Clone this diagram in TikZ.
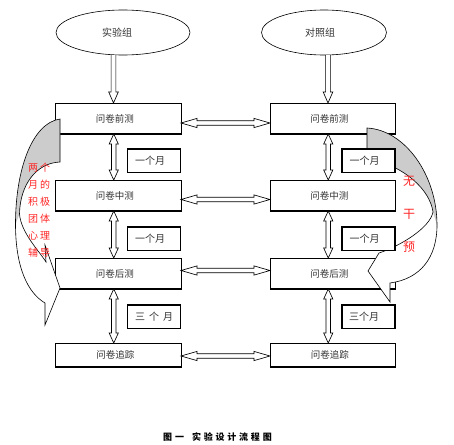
\documentclass[tikz,border=0pt]{standalone}
\usepackage{fontspec}
\setmainfont{Noto Sans CJK SC}
\usetikzlibrary{shapes.geometric,calc}
\tikzset{
 mainbox/.style={draw, line width=0.8pt, fill=white, minimum width=125.5pt, minimum height=31pt, inner sep=0pt, outer sep=0pt, anchor=north west, text=black!80, font=\fontsize{9.5}{11}\selectfont},
 monthbox/.style={draw, line width=1.1pt, fill=white, minimum width=53pt, minimum height=23.5pt, inner sep=0pt, outer sep=0pt, anchor=north west, text=black!80, font=\fontsize{10}{12}\selectfont},
 groupell/.style={draw, ellipse, line width=0.6pt, fill=white, minimum width=134pt, minimum height=45pt, inner sep=0pt, outer sep=0pt, text=black!80, font=\fontsize{10}{12}\selectfont},
 blk/.style={draw, line width=0.65pt, fill=white, line join=miter},
 curvedface/.style={draw, line width=0.6pt, line join=miter},
 backface/.style={fill=gray!40},
 redtext/.style={text=red!85, inner sep=0pt},
 bottomedge/.style={line width=1.4pt},
}
% horizontal double block arrow between two points (same y)
\newcommand\hdarrow[2]{\draw[blk] let \p1=#1, \p2=#2 in
 (\x1,\y1) -- (\x1+16pt,\y1+4.6pt) -- (\x1+16pt,\y1+2.3pt) -- (\x2-16pt,\y1+2.3pt) -- (\x2-16pt,\y1+4.6pt) -- (\x2,\y1)
 -- (\x2-16pt,\y1-4.6pt) -- (\x2-16pt,\y1-2.3pt) -- (\x1+16pt,\y1-2.3pt) -- (\x1+16pt,\y1-4.6pt) -- cycle;}
% vertical double block arrow, #1 top point, #2 bottom point
\newcommand\vdarrow[2]{\draw[blk] let \p1=#1, \p2=#2 in
 (\x1,\y1) -- (\x1+4.6pt,\y1-10pt) -- (\x1+2.3pt,\y1-10pt) -- (\x1+2.3pt,\y2+10pt) -- (\x1+4.6pt,\y2+10pt) -- (\x1,\y2)
 -- (\x1-4.6pt,\y2+10pt) -- (\x1-2.3pt,\y2+10pt) -- (\x1-2.3pt,\y1-10pt) -- (\x1-4.6pt,\y1-10pt) -- cycle;}
% single downward block arrow, #1 start, #2 tip
\newcommand\vsarrow[2]{%
 \fill[white] let \p1=#1, \p2=#2 in
 (\x1-2.4pt,\y1) -- (\x1-2.4pt,\y2+11pt) -- (\x1-4.8pt,\y2+11pt) -- (\x1,\y2) -- (\x1+4.8pt,\y2+11pt) -- (\x1+2.4pt,\y2+11pt) -- (\x1+2.4pt,\y1) -- cycle;
 \draw[line width=0.65pt] let \p1=#1, \p2=#2 in
 (\x1-2.4pt,\y1) -- (\x1-2.4pt,\y2+11pt) -- (\x1-4.8pt,\y2+11pt) -- (\x1,\y2) -- (\x1+4.8pt,\y2+11pt) -- (\x1+2.4pt,\y2+11pt) -- (\x1+2.4pt,\y1);}
\begin{document}
\begin{tikzpicture}[x=1pt,y=-1pt]
\useasboundingbox[fill=white] (0,0) rectangle (454,444);

% groups
\node[groupell] (exp) at (123,32.5) {\hspace*{-12pt}实验组};
\node[groupell, minimum width=125pt] (ctl) at (324,32.5) {\hspace*{-8pt}对照组};

% main boxes
\node[mainbox] (l1) at (55.5,103) {\hspace*{-7pt}问卷前测};
\node[mainbox] (l2) at (55.5,180) {\hspace*{-7pt}问卷中测};
\node[mainbox] (l3) at (55.5,258) {\hspace*{-7pt}问卷后测};
\node[mainbox, minimum height=24pt] (l4) at (55.5,343) {\hspace*{-6pt}问卷追踪};
\node[mainbox] (r1) at (270,103) {\hspace*{-7pt}问卷前测};
\node[mainbox] (r2) at (270,180) {\hspace*{-7pt}问卷中测};
\node[mainbox] (r3) at (270,258) {\hspace*{-7pt}问卷后测};
\node[mainbox, minimum height=24pt] (r4) at (270,343) {\hspace*{-6pt}问卷追踪};
\foreach \n in {l1,l2,l3,l4,r1,r2,r3,r4}
  \draw[bottomedge] (\n.south west) -- (\n.south east);

% arrows from groups
\vsarrow{($(exp.south)+(-9.5,0)$)}{($(l1.north)+(-4.75,0)$)}
\vsarrow{($(ctl.south)+(4,0)$)}{($(r1.north)+(-4.5,0)$)}

% vertical double arrows
\vdarrow{($(l1.south)+(-4.5,0)$)}{($(l2.north)+(-4.5,0)$)}
\vdarrow{($(l2.south)+(-4.5,0)$)}{($(l3.north)+(-4.5,0)$)}
\vdarrow{($(l3.south)+(-4.5,0)$)}{($(l4.north)+(-4.5,0)$)}
\vdarrow{($(r1.south)+(-4.5,0)$)}{($(r2.north)+(-4.5,0)$)}
\vdarrow{($(r2.south)+(-4.5,0)$)}{($(r3.north)+(-4.5,0)$)}
\vdarrow{($(r3.south)+(-4.5,0)$)}{($(r4.north)+(-4.5,0)$)}

% horizontal double arrows
\hdarrow{($(l1.east)+(0,4.5)$)}{($(r1.west)+(0,4.5)$)}
\hdarrow{($(l2.east)+(0,4)$)}{($(r2.west)+(0,4)$)}
\hdarrow{($(l3.east)+(0,-3)$)}{($(r3.west)+(0,-3)$)}
\hdarrow{($(l4.east)+(0,1)$)}{($(r4.west)+(0,1)$)}

% left curved arrow
\fill[white] (60,119) .. controls (32,123) and (15.5,170) .. (15.5,224) .. controls (15.5,268) and (28,293) .. (45,303) -- (45,325) -- (60,288) -- (45,245) -- (46,262) .. controls (40,252) and (21,233) .. (19.5,214) .. controls (20,185) and (36,163) .. (60,162) -- cycle;
\fill[backface] (60,119) .. controls (32,123) and (15.5,170) .. (15.5,224) -- (19.5,214) .. controls (20,185) and (36,163) .. (60,162) -- cycle;
\draw[curvedface] (60,119) .. controls (32,123) and (15.5,170) .. (15.5,224) .. controls (15.5,268) and (28,293) .. (45,303) -- (45,325) -- (60,288) -- (45,245) -- (46,262) .. controls (40,252) and (21,233) .. (19.5,214) .. controls (20,185) and (36,163) .. (60,162) -- cycle;

% right curved arrow
\fill[white] (367,128) .. controls (405,130) and (437,175) .. (437,225) .. controls (437,258) and (420,279) .. (390,283) -- (390,302) -- (368,271) -- (379,253) .. controls (400,246) and (430,228) .. (433,212) .. controls (430,190) and (405,166) .. (367,158) -- cycle;
\fill[backface] (367,128) .. controls (405,130) and (437,175) .. (437,225) -- (433,212) .. controls (430,190) and (405,166) .. (367,158) -- cycle;
\draw[curvedface] (367,128) .. controls (405,130) and (437,175) .. (437,225) .. controls (437,258) and (420,279) .. (390,283) -- (390,302) -- (368,271) -- (379,253) .. controls (400,246) and (430,228) .. (433,212) .. controls (430,190) and (405,166) .. (367,158) -- cycle;

% month boxes
\node[monthbox] (lm1) at (127.5,149) {\hspace*{-8pt}一个月};
\node[monthbox] (lm2) at (127.5,227) {\hspace*{-8pt}一个月};
\node[monthbox] (lm3) at (127.5,305) {三\hspace{4pt}个\hspace{4pt}月};
\node[monthbox] (rm1) at (342,149) {\hspace*{-8pt}一个月};
\node[monthbox] (rm2) at (342,227) {\hspace*{-8pt}一个月};
\node[monthbox] (rm3) at (342,305) {\hspace*{-9pt}三个月};

% red labels
\node[redtext, align=center, font=\fontsize{10}{17}\selectfont] (lefttxt) at (39,210.5)
  {两\hspace{2pt}个\\月\hspace{2pt}的\\积\hspace{2pt}极\\团\hspace{2pt}体\\心\hspace{2pt}理\\辅\hspace{2pt}导};
\node[redtext, align=center, font=\fontsize{12}{33}\selectfont] (righttxt) at (409,214) {无\\干\\预};

% caption
\node[font=\bfseries\fontsize{9}{11}\selectfont, inner sep=0pt] (cap) at (217.5,437)
  {图\hspace{2.8pt}一\hspace{8pt}实\hspace{2.8pt}验\hspace{2.8pt}设\hspace{2.8pt}计\hspace{2.8pt}流\hspace{2.8pt}程\hspace{2.8pt}图};
\end{tikzpicture}
\end{document}
